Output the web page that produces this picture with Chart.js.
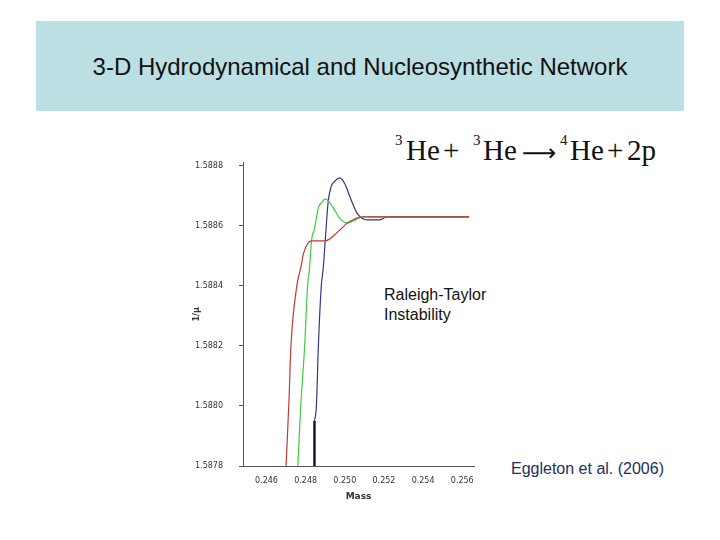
<!DOCTYPE html>
<html>
<head>
<meta charset="utf-8">
<script src="https://cdn.jsdelivr.net/npm/chart.js@4"></script>
<style>
  body { margin: 0; width: 720px; height: 540px; background: #fff; position: relative; overflow: hidden; font-family: "Liberation Sans", Arial, sans-serif; }
  #band { position: absolute; left: 36px; top: 21px; width: 648px; height: 90px; background: #bcdfe3; }
  #title { position: absolute; left: 36px; top: 53px; width: 648px; text-align: center; font-size: 24px; color: #111; }
  .eq { position: absolute; font-family: "Liberation Serif", "Times New Roman", serif; font-size: 29px; color: #111; white-space: nowrap; line-height: 29px; top: 136px; }
  .eq.s { font-size: 15px; line-height: 15px; top: 133px; }
  .note { position: absolute; font-size: 16px; color: #111; line-height: 20px; }
  #wrap { position: absolute; left: 190px; top: 142px; width: 300px; height: 362px; }
</style>
</head>
<body>
<div id="band"></div>
<div id="title">3-D Hydrodynamical and Nucleosynthetic Network</div>
<div class="eq s" style="left:395px;">3</div>
<div class="eq" style="left:406px;">He</div>
<div class="eq" style="left:443px;">+</div>
<div class="eq s" style="left:473px;">3</div>
<div class="eq" style="left:483px;">He</div>
<div class="eq" style="left:522px; font-family:'DejaVu Sans'; font-size:24px; top:139px;">&#x27F6;</div>
<div class="eq s" style="left:560px;">4</div>
<div class="eq" style="left:570px;">He</div>
<div class="eq" style="left:607px;">+</div>
<div class="eq" style="left:627px;">2p</div>
<div class="note" style="left:384px; top:285px;">Raleigh-Taylor<br>Instability</div>
<div class="note" style="left:511px; top:459px; color:#1d2f5e;">Eggleton et al. (2006)</div>
<div id="wrap"><canvas id="c"></canvas></div>
<script>
// tick labels
const massTicks = [0.246, 0.248, 0.250, 0.252, 0.254, 0.256];
const muTicks = [1.5878, 1.5880, 1.5882, 1.5884, 1.5886, 1.5888];

// red curve
const redMass = [0.2470, 0.24715, 0.24725, 0.24755, 0.24775, 0.2479, 0.2483, 0.2490, 0.24965, 0.25015, 0.2509, 0.25635];
const redMu = [1.58780, 1.58802, 1.58820, 1.58840, 1.58846, 1.58851, 1.58855, 1.58855, 1.58858, 1.58861, 1.58863, 1.58863];

// green curve
const greenMass = [0.2476, 0.24775, 0.24795, 0.2481, 0.2482, 0.2483, 0.24845, 0.24865, 0.24885, 0.2490, 0.2492, 0.2495, 0.2498, 0.25015, 0.25055, 0.2509, 0.25635];
const greenMu = [1.58780, 1.58800, 1.58820, 1.58840, 1.58846, 1.58855, 1.58859, 1.58866, 1.58868, 1.58869, 1.58868, 1.58865, 1.58862, 1.58861, 1.58862, 1.58863, 1.58863];

// blue curve
const blueMass = [0.24845, 0.24855, 0.24865, 0.2488, 0.2489, 0.2490, 0.24915, 0.2493, 0.2495, 0.24975, 0.2500, 0.2503, 0.25065, 0.25115, 0.2518, 0.25215, 0.25635];
const blueMu = [1.58795, 1.58800, 1.58820, 1.58840, 1.58846, 1.58855, 1.58868, 1.58873, 1.58875, 1.58876, 1.58874, 1.58869, 1.58864, 1.58862, 1.58862, 1.58863, 1.58863];

// thick dark foot of the blue curve
const footMass = [0.24845, 0.24845];
const footMu = [1.58780, 1.58795];

const pts = (xs, ys) => xs.map((x, i) => ({x: x, y: ys[i]}));

const tickFont = {family: 'DejaVu Sans', size: 8};

new Chart(document.getElementById('c'), {
  type: 'line',
  data: {
    datasets: [
      {data: pts(redMass, redMu), borderColor: '#c03a35', borderWidth: 1.2},
      {data: pts(greenMass, greenMu), borderColor: '#3ccc3c', borderWidth: 1.2},
      {data: pts(blueMass, blueMu), borderColor: '#35358a', borderWidth: 1.2},
      {data: pts(footMass, footMu), borderColor: '#141438', borderWidth: 2.5, tension: 0}
    ]
  },
  options: {
    responsive: true,
    maintainAspectRatio: false,
    animation: false,
    layout: {padding: {top: 6, right: 16, left: 0, bottom: 0}},
    elements: {
      point: {radius: 0},
      line: {cubicInterpolationMode: 'monotone', fill: false}
    },
    plugins: {legend: {display: false}, tooltip: {enabled: false}},
    scales: {
      x: {
        type: 'linear',
        min: 0.2448,
        max: 0.2566,
        afterFit: s => { s.height = 38; },
        afterBuildTicks: s => { s.ticks = massTicks.map(v => ({value: v})); },
        ticks: {callback: v => v.toFixed(3), font: tickFont, color: '#333', padding: 10, maxRotation: 0},
        grid: {drawOnChartArea: false, drawTicks: true, tickLength: 0, color: '#555'},
        border: {display: true, color: '#555'},
        title: {display: true, text: 'Mass', font: {family: 'DejaVu Sans', size: 9, weight: 'bold'}, color: '#333', padding: 2}
      },
      y: {
        type: 'linear',
        min: 1.5878,
        max: 1.58881,
        afterFit: s => { s.width = 53; },
        afterBuildTicks: s => { s.ticks = muTicks.map(v => ({value: v})); },
        ticks: {callback: v => v.toFixed(4), font: tickFont, color: '#333', padding: 16},
        grid: {drawOnChartArea: false, drawTicks: true, tickLength: 4, color: '#555'},
        border: {display: true, color: '#555'},
        title: {display: true, text: '1/\u03bc', font: {family: 'DejaVu Sans', size: 8, weight: 'bold'}, color: '#333', padding: 2}
      }
    }
  }
});
</script>
</body>
</html>
